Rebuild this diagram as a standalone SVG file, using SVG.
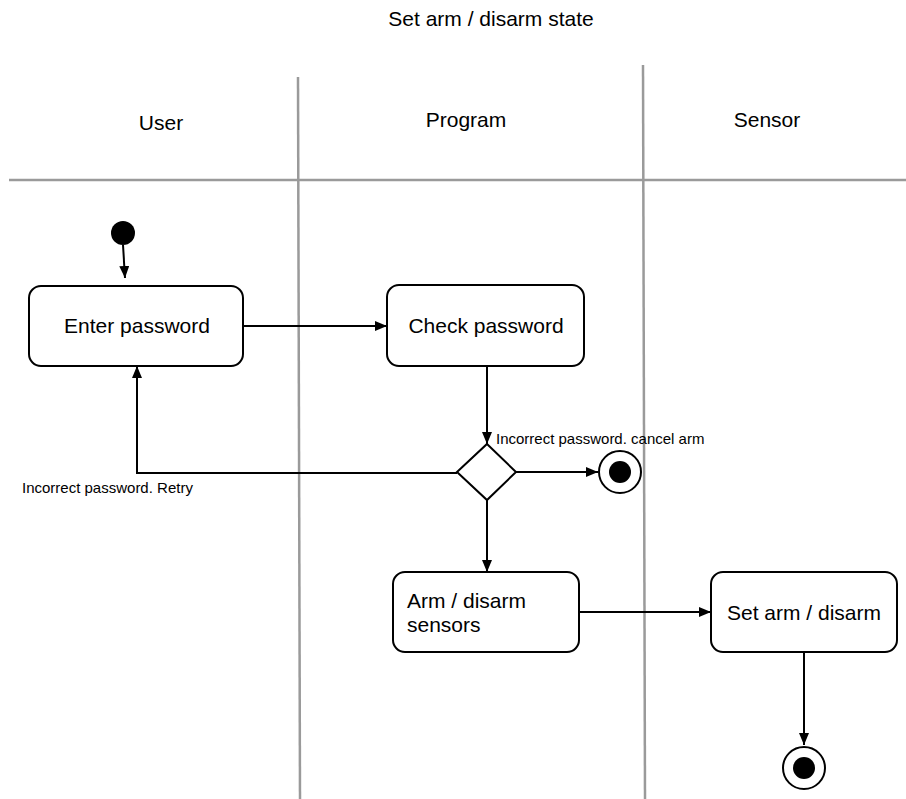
<svg xmlns="http://www.w3.org/2000/svg" width="906" height="799" viewBox="0 0 906 799">
  <style>
    .lane { stroke: #9a9a9a; stroke-width: 2.5; fill: none; }
    .box { fill: #ffffff; stroke: #000000; stroke-width: 2; }
    .edge { stroke: #000000; stroke-width: 2; fill: none; }
    .t { font-family: "Liberation Sans", Arial, sans-serif; fill: #000000; }
    .big { font-size: 21px; }
    .head { font-size: 21px; }
    .small { font-size: 15px; }
  </style>
  <defs>
    <marker id="arrow" viewBox="0 0 12 10" refX="12" refY="5" markerWidth="12" markerHeight="10" markerUnits="userSpaceOnUse" orient="auto">
      <path d="M0,0 L12,5 L0,10 Z" fill="#000000"/>
    </marker>
  </defs>

  <rect width="906" height="799" fill="#ffffff"/>

  <!-- title -->
  <text class="t head" x="491" y="26" text-anchor="middle">Set arm / disarm state</text>

  <!-- swimlanes -->
  <g id="lanes">
    <line class="lane" x1="9" y1="180" x2="906" y2="180"/>
    <line class="lane" x1="298" y1="77" x2="300" y2="799"/>
    <line class="lane" x1="643" y1="65" x2="645" y2="799"/>
    <text class="t head" x="161" y="130" text-anchor="middle">User</text>
    <text class="t head" x="466" y="127" text-anchor="middle">Program</text>
    <text class="t head" x="767" y="127" text-anchor="middle">Sensor</text>
  </g>

  <!-- connectors -->
  <g id="connectors">
    <line class="edge" x1="123" y1="245" x2="125" y2="278" marker-end="url(#arrow)"/>
    <line class="edge" x1="243" y1="326" x2="387" y2="326" marker-end="url(#arrow)"/>
    <line class="edge" x1="487" y1="366" x2="487" y2="444" marker-end="url(#arrow)"/>
    <polyline class="edge" points="457,473 137,473 137,366" marker-end="url(#arrow)"/>
    <line class="edge" x1="516" y1="472" x2="598" y2="472" marker-end="url(#arrow)"/>
    <line class="edge" x1="487" y1="500" x2="487" y2="572" marker-end="url(#arrow)"/>
    <line class="edge" x1="579" y1="612" x2="711" y2="612" marker-end="url(#arrow)"/>
    <line class="edge" x1="804" y1="652" x2="804" y2="745" marker-end="url(#arrow)"/>
    <text class="t small" x="22" y="493">Incorrect password. Retry</text>
    <text class="t small" x="496" y="444">Incorrect password. cancel arm</text>
  </g>

  <!-- nodes -->
  <g id="start">
    <circle cx="123" cy="233" r="12" fill="#000000"/>
  </g>
  <g id="enter-password">
    <rect class="box" x="29" y="286" width="214" height="80" rx="12"/>
    <text class="t big" x="137" y="333" text-anchor="middle">Enter password</text>
  </g>
  <g id="check-password">
    <rect class="box" x="387" y="285" width="197" height="81" rx="12"/>
    <text class="t big" x="486" y="333" text-anchor="middle">Check password</text>
  </g>
  <g id="decision">
    <polygon class="box" points="487,444 516,472 487,500 457,472"/>
  </g>
  <g id="end-cancel">
    <circle cx="620" cy="472" r="21" fill="#ffffff" stroke="#000000" stroke-width="2"/>
    <circle cx="620" cy="472" r="11" fill="#000000"/>
  </g>
  <g id="arm-sensors">
    <rect class="box" x="393" y="572" width="186" height="80" rx="12"/>
    <text class="t big" x="407" y="608">Arm / disarm</text>
    <text class="t big" x="407" y="632">sensors</text>
  </g>
  <g id="set-arm">
    <rect class="box" x="711" y="572" width="186" height="80" rx="12"/>
    <text class="t big" x="804" y="620" text-anchor="middle">Set arm / disarm</text>
  </g>
  <g id="end-done">
    <circle cx="804" cy="768" r="21" fill="#ffffff" stroke="#000000" stroke-width="2"/>
    <circle cx="804" cy="768" r="11" fill="#000000"/>
  </g>
</svg>
